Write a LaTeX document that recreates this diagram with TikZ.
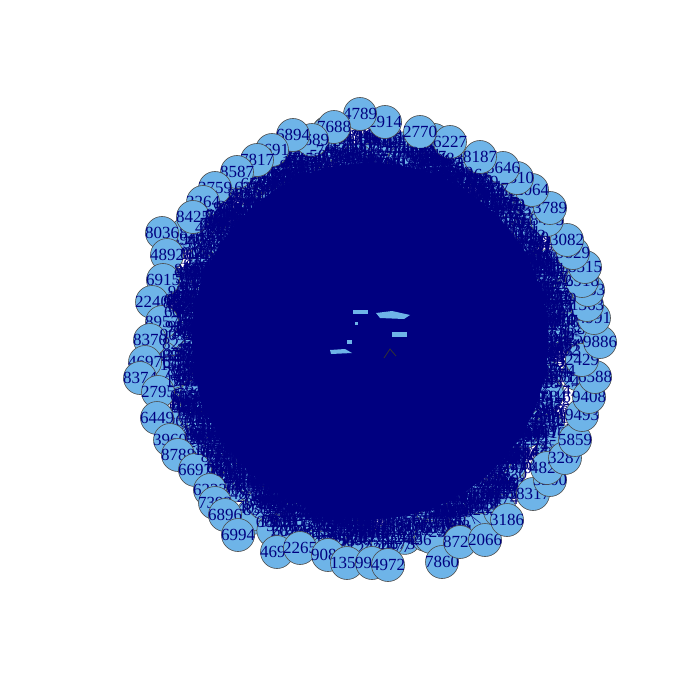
\documentclass[tikz,border=0pt]{standalone}
\usepackage{fontspec}
\setmainfont{Liberation Serif}
\usetikzlibrary{calc}
\definecolor{sky}{RGB}{110,180,232}
\definecolor{navyc}{RGB}{0,0,128}
\tikzset{
  vtx/.style={circle,draw=black!70,fill=sky,minimum size=33pt,inner sep=0pt,line width=0.6pt},
  lbl/.style={text=navyc,font=\fontsize{17}{17}\selectfont,inner sep=0pt},
  edge/.style={draw=navyc,line width=0.5pt},
  speck/.style={fill=sky,draw=none}
}
\begin{document}
\begin{tikzpicture}[x=1pt,y=-1pt]
\useasboundingbox (0,0) rectangle (700,700);
\coordinate (c) at (370,341);
% hidden inner vertices
\pgfmathsetseed{11}
\foreach \i in {1,...,280}{
  \pgfmathsetmacro\a{360*rnd}
  \pgfmathsetmacro\r{150+64*rnd}
  \node[vtx] (h\i) at ([shift={(\a:\r pt)}]c) {};
}
% dense core
\fill[navyc] (c) circle (178pt);
% edges
\foreach \i in {1,...,280}{
  \pgfmathsetmacro\a{360*rnd}
  \pgfmathsetmacro\r{140*rnd}
  \coordinate (e\i) at ([shift={(\a:\r pt)}]c);
  \draw[edge] (h\i.center) -- (e\i);
}
% label clutter
\foreach \i in {1,...,800}{
  \pgfmathsetmacro\a{360*rnd}
  \pgfmathsetmacro\r{120+88*sqrt(rnd)}
  \pgfmathtruncatemacro\n{1000+8999*rnd}
  \node[lbl] (t\i) at ([shift={(\a:\r pt)}]c) {\n};
}
% outer ring of vertices
\foreach \x/\y/\t [count=\k] in {
 162/233/8036, 167/255/4892, 163/280/6915, 152/302/2240, 162/322/8957,
 150/340/8370, 145/362/4697, 140/378/8374, 158/392/2795, 157/418/6449,
 170/440/3960, 178/455/8788, 195/470/6697, 210/490/6223, 215/503/7392,
 225/515/6896, 238/535/6994, 277/552/4692, 300/548/2265, 328/555/9081,
 347/563/1350, 372/563/9964, 388/565/4972, 442/562/7860, 460/542/8722,
 485/540/2066, 507/520/3186, 533/494/8317, 550/480/3200, 547/468/4825,
 565/458/3287, 575/440/5859, 582/415/9493, 589/397/9408, 595/377/6588,
 582/360/2429, 600/342/9886, 594/318/4991, 587/305/1363, 588/290/9453,
 582/281/6918, 585/267/8515, 573/253/9829, 567/240/3082, 547/220/8475,
 550/208/3789, 532/190/2064, 517/178/9310, 503/168/8646, 480/157/8187,
 450/142/6227, 420/132/2770, 385/122/2914, 360/114/4789, 334/127/7688,
 312/140/5689, 293/135/6894, 272/150/7691, 257/160/7817, 237/172/8587,
 215/188/3759, 203/202/3264, 193/217/8425}{
  \node[vtx] (v\k) at (\x,\y) {};
  \node[lbl] (l\k) at (v\k) {\t};
}
% clutter over inner sides of the ring
\foreach \i in {1,...,520}{
  \pgfmathsetmacro\a{360*rnd}
  \pgfmathsetmacro\r{145+50*sqrt(rnd)}
  \pgfmathtruncatemacro\n{1000+8999*rnd}
  \node[lbl] (u\i) at ([shift={(\a:\r pt)}]c) {\n};
}
% specks in the core
\fill[speck] (353,310) rectangle (368,314);
\fill[speck] (376,313) -- (392,311) -- (410,315) -- (404,319) -- (380,318) -- cycle;
\fill[speck] (392,332) rectangle (407,337);
\fill[speck] (330,350) -- (345,349) -- (352,353) -- (331,354) -- cycle;
\fill[speck] (347,340) rectangle (352,344);
\fill[speck] (355,322) rectangle (358,325);
\draw[black!80,line width=0.8pt] (384,358) -- (390,349) -- (396,356);
\end{tikzpicture}
\end{document}
